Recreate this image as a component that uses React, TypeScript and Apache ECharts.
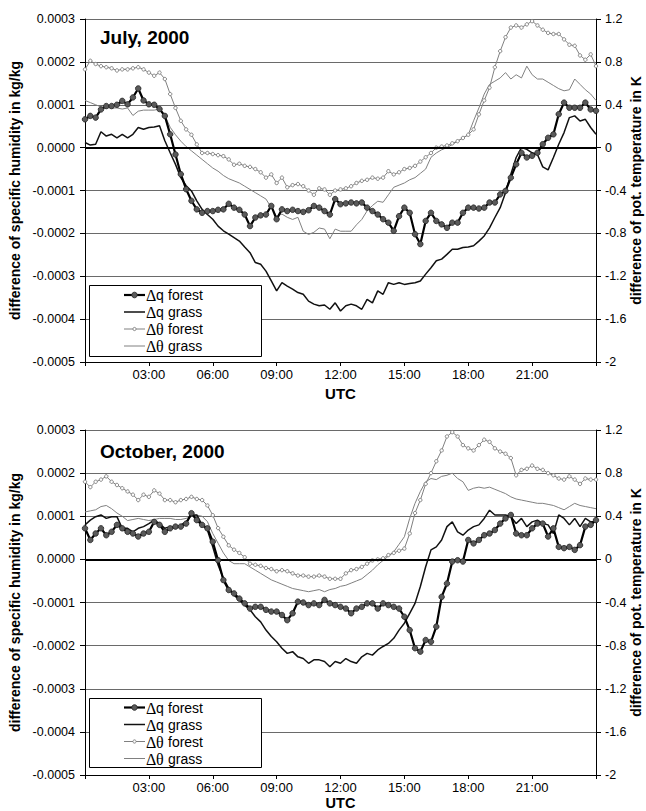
import React, { useEffect, useRef } from "react";
import * as echarts from "echarts";

// time step of the records in hours (15 min)
const STEP_H = 0.25;

const SERIES_NAMES = ["Δq forest", "Δq grass", "Δθ forest", "Δθ grass"];
const PANEL_TITLES = ["July, 2000", "October, 2000"];
const X_TICK_LABELS = ["", "03:00", "06:00", "09:00", "12:00", "15:00", "18:00", "21:00", ""];
const Q_TICK_LABELS = ["-0.0005", "-0.0004", "-0.0003", "-0.0002", "-0.0001", "0.0000", "0.0001", "0.0002", "0.0003"];
const T_TICK_LABELS = ["-2", "-1.6", "-1.2", "-0.8", "-0.4", "0", "0.4", "0.8", "1.2"];

// specific humidity differences in units of 1e-4 kg/kg, potential temperature differences in K
// values every 15 min from 00:00 to 24:00
const julyQForest = [
  0.66, 0.74, 0.70, 0.89, 0.97, 0.97, 1.00, 1.09, 1.01, 1.17, 1.38, 1.10,
  1.01, 1.00, 0.90, 0.74, 0.31, -0.16, -0.62, -0.97, -1.24, -1.44, -1.52, -1.48,
  -1.48, -1.45, -1.44, -1.31, -1.40, -1.45, -1.56, -1.83, -1.63, -1.58, -1.56, -1.36,
  -1.67, -1.44, -1.48, -1.45, -1.48, -1.50, -1.46, -1.36, -1.40, -1.48, -1.56, -1.20,
  -1.32, -1.30, -1.28, -1.30, -1.28, -1.40, -1.48, -1.56, -1.67, -1.75, -1.94, -1.60,
  -1.40, -1.52, -2.02, -2.25, -1.71, -1.52, -1.71, -1.79, -1.87, -1.75, -1.75, -1.52,
  -1.40, -1.40, -1.42, -1.40, -1.28, -1.28, -1.09, -1.01, -0.70, -0.39, -0.12, -0.23,
  -0.19, -0.12, 0.08, 0.23, 0.31, 0.78, 1.05, 0.93, 0.93, 0.93, 1.05, 0.89,
  0.86,
];
const julyQGrass = [
  0.12, 0.06, 0.08, 0.37, 0.27, 0.31, 0.23, 0.31, 0.23, 0.31, 0.47, 0.43,
  0.47, 0.48, 0.51, 0.16, -0.12, -0.39, -0.70, -0.89, -1.01, -1.24, -1.44, -1.56,
  -1.67, -1.83, -1.94, -2.02, -2.10, -2.18, -2.32, -2.45, -2.68, -2.72, -2.88, -3.11,
  -3.34, -3.15, -3.23, -3.30, -3.38, -3.42, -3.58, -3.65, -3.69, -3.67, -3.77, -3.62,
  -3.81, -3.69, -3.65, -3.69, -3.77, -3.54, -3.62, -3.34, -3.42, -3.15, -3.19, -3.15,
  -3.19, -3.17, -3.15, -3.11, -2.95, -2.80, -2.64, -2.60, -2.49, -2.37, -2.37, -2.33,
  -2.32, -2.29, -2.18, -2.06, -1.87, -1.63, -1.40, -1.05, -0.62, -0.23, 0.00, -0.04,
  -0.12, -0.16, -0.45, -0.52, -0.23, 0.08, 0.35, 0.70, 0.74, 0.62, 0.66, 0.47,
  0.31,
];
const julyTForest = [
  0.73, 0.81, 0.78, 0.76, 0.75, 0.74, 0.72, 0.73, 0.73, 0.74, 0.75, 0.73,
  0.70, 0.67, 0.70, 0.64, 0.50, 0.37, 0.25, 0.17, 0.12, 0.03, -0.05, -0.05,
  -0.06, -0.07, -0.08, -0.11, -0.16, -0.15, -0.17, -0.18, -0.20, -0.23, -0.28, -0.25,
  -0.33, -0.28, -0.37, -0.35, -0.34, -0.36, -0.40, -0.44, -0.38, -0.39, -0.44, -0.40,
  -0.39, -0.38, -0.36, -0.33, -0.31, -0.30, -0.28, -0.29, -0.28, -0.22, -0.25, -0.23,
  -0.20, -0.19, -0.17, -0.13, -0.09, -0.05, 0.00, 0.01, 0.02, 0.04, 0.06, 0.09,
  0.12, 0.17, 0.31, 0.44, 0.56, 0.75, 0.90, 1.03, 1.12, 1.14, 1.12, 1.15,
  1.18, 1.14, 1.10, 1.07, 1.06, 1.06, 1.01, 0.96, 0.95, 0.86, 0.82, 0.87,
  0.76,
];
const julyTGrass = [
  0.44, 0.42, 0.40, 0.38, 0.37, 0.37, 0.37, 0.36, 0.37, 0.30, 0.34, 0.35,
  0.35, 0.35, 0.36, 0.30, 0.19, 0.12, 0.06, 0.01, -0.03, -0.07, -0.11, -0.15,
  -0.19, -0.22, -0.26, -0.29, -0.31, -0.33, -0.36, -0.39, -0.42, -0.45, -0.48, -0.56,
  -0.64, -0.62, -0.65, -0.67, -0.65, -0.78, -0.81, -0.79, -0.75, -0.76, -0.85, -0.76,
  -0.78, -0.78, -0.78, -0.72, -0.67, -0.59, -0.54, -0.50, -0.51, -0.44, -0.37, -0.35,
  -0.33, -0.30, -0.28, -0.24, -0.20, -0.09, -0.05, -0.02, 0.00, 0.03, 0.06, 0.09,
  0.12, 0.25, 0.37, 0.50, 0.59, 0.62, 0.65, 0.70, 0.64, 0.68, 0.65, 0.76,
  0.68, 0.64, 0.64, 0.61, 0.58, 0.55, 0.53, 0.54, 0.64, 0.59, 0.54, 0.50,
  0.44,
];

const octQForest = [
  0.72, 0.45, 0.60, 0.72, 0.56, 0.64, 0.80, 0.72, 0.64, 0.60, 0.53, 0.60,
  0.64, 0.87, 0.80, 0.64, 0.72, 0.76, 0.76, 0.83, 1.07, 0.91, 0.80, 0.72,
  0.41, -0.02, -0.48, -0.71, -0.79, -0.91, -1.02, -1.14, -1.10, -1.10, -1.17, -1.21,
  -1.21, -1.29, -1.41, -1.25, -0.98, -1.00, -1.06, -1.02, -1.06, -0.94, -1.02, -1.06,
  -1.10, -1.14, -1.25, -1.14, -1.10, -1.02, -1.02, -1.14, -1.02, -1.06, -1.10, -1.14,
  -1.33, -1.64, -2.06, -2.14, -1.87, -1.91, -1.56, -0.87, -0.56, -0.05, -0.02, -0.05,
  0.45, 0.37, 0.45, 0.56, 0.60, 0.68, 0.83, 0.95, 1.03, 0.60, 0.56, 0.56,
  0.72, 0.83, 0.83, 0.53, 0.72, 0.29, 0.26, 0.29, 0.22, 0.33, 0.76, 0.80,
  0.91,
];
const octQGrass = [
  0.80, 0.91, 0.99, 1.03, 0.95, 0.99, 0.99, 0.72, 0.72, 0.64, 0.72, 0.76,
  0.83, 0.91, 0.83, 0.72, 0.76, 0.72, 0.80, 0.87, 1.03, 1.03, 0.80, 0.68,
  0.29, -0.13, -0.44, -0.67, -0.83, -0.94, -1.06, -1.17, -1.33, -1.45, -1.64, -1.79,
  -1.91, -2.06, -2.18, -2.14, -2.26, -2.30, -2.41, -2.33, -2.33, -2.37, -2.49, -2.37,
  -2.41, -2.30, -2.37, -2.41, -2.26, -2.18, -2.22, -2.10, -2.02, -1.95, -1.83, -1.64,
  -1.48, -1.25, -1.02, -0.63, -0.17, 0.22, 0.29, 0.45, 0.76, 0.87, 0.64, 0.56,
  0.68, 0.76, 0.80, 0.95, 1.14, 1.03, 1.03, 1.03, 0.99, 0.83, 0.95, 0.76,
  0.87, 0.91, 0.83, 0.80, 0.60, 1.03, 0.95, 0.80, 0.95, 0.76, 0.95, 0.87,
  0.87,
];
const octTForest = [
  0.72, 0.67, 0.72, 0.74, 0.77, 0.72, 0.69, 0.66, 0.63, 0.60, 0.55, 0.60,
  0.58, 0.64, 0.61, 0.55, 0.55, 0.53, 0.55, 0.56, 0.58, 0.56, 0.55, 0.50,
  0.41, 0.29, 0.21, 0.13, 0.09, 0.06, 0.02, -0.04, -0.05, -0.06, -0.08, -0.09,
  -0.11, -0.10, -0.11, -0.13, -0.15, -0.15, -0.16, -0.16, -0.15, -0.16, -0.18, -0.18,
  -0.18, -0.13, -0.10, -0.09, -0.07, -0.04, -0.01, 0.00, 0.01, 0.04, 0.06, 0.08,
  0.10, 0.24, 0.43, 0.55, 0.70, 0.80, 0.91, 1.01, 1.14, 1.18, 1.14, 1.06,
  1.03, 1.01, 1.06, 1.11, 1.09, 1.03, 1.00, 0.98, 0.94, 0.78, 0.83, 0.84,
  0.87, 0.84, 0.83, 0.80, 0.78, 0.75, 0.74, 0.77, 0.74, 0.70, 0.75, 0.74,
  0.74,
];
const octTGrass = [
  0.44, 0.45, 0.46, 0.49, 0.50, 0.47, 0.43, 0.40, 0.36, 0.37, 0.38, 0.37,
  0.36, 0.37, 0.38, 0.38, 0.38, 0.37, 0.37, 0.38, 0.40, 0.41, 0.40, 0.35,
  0.24, 0.15, 0.06, -0.01, -0.04, -0.04, -0.04, -0.07, -0.10, -0.13, -0.16, -0.19,
  -0.21, -0.23, -0.25, -0.27, -0.28, -0.29, -0.30, -0.29, -0.28, -0.30, -0.28, -0.27,
  -0.25, -0.24, -0.22, -0.20, -0.18, -0.14, -0.10, -0.05, -0.01, 0.03, 0.07, 0.14,
  0.21, 0.38, 0.52, 0.63, 0.72, 0.75, 0.74, 0.77, 0.78, 0.80, 0.75, 0.72,
  0.64, 0.66, 0.67, 0.66, 0.67, 0.65, 0.63, 0.61, 0.58, 0.56, 0.55, 0.54,
  0.53, 0.52, 0.52, 0.51, 0.50, 0.48, 0.46, 0.49, 0.52, 0.50, 0.49, 0.48,
  0.47,
];

const PANELS = [
  { qForest: julyQForest, qGrass: julyQGrass, tForest: julyTForest, tGrass: julyTGrass },
  { qForest: octQForest, qGrass: octQGrass, tForest: octTForest, tGrass: octTGrass },
];

const FONT = "'Liberation Sans', Arial, sans-serif";
const GREEK_FONT = "'Liberation Serif', 'DejaVu Serif', serif";

const GRIDS = [
  { left: 85, top: 19, width: 511, height: 343, outerBoundsMode: "none", containLabel: false },
  { left: 85, top: 430, width: 511, height: 345, outerBoundsMode: "none", containLabel: false },
];
const UTC_GAPS = [24, 20];
const LEGEND_BOXES = [
  { x: 89, y: 285, w: 172, h: 71 },
  { x: 89, y: 698, w: 172, h: 69 },
];
const TITLE_TOPS = [28, 442];

// visual style for each series, in SERIES_NAMES order
const STYLES = [
  { line: "#000", width: 2.2, marker: { r: 2.8, fill: "#5a5a5a", stroke: "#222", lw: 0.8 } },
  { line: "#111", width: 1.5, marker: null },
  { line: "#808080", width: 1, marker: { r: 1.6, fill: "#fff", stroke: "#777", lw: 0.9 } },
  { line: "#808080", width: 1, marker: null },
];

const toPairs = (arr: number[]) => arr.map((v, i) => [i * STEP_H, v]);
const isGreek = (c: string) => /[\u0370-\u03ff]/.test(c);

function legendGraphics(k: number) {
  const b = LEGEND_BOXES[k];
  const els: any[] = [
    {
      type: "rect",
      z: 100,
      shape: { x: b.x + 0.5, y: b.y + 0.5, width: b.w, height: b.h },
      style: { fill: "#fff", stroke: "#000", lineWidth: 1 },
    },
  ];
  SERIES_NAMES.forEach((name, i) => {
    const cy = b.y + 10 + i * 17 - (k === 1 ? 0.5 : 0);
    const s = STYLES[i];
    els.push({
      type: "line",
      z: 101,
      shape: { x1: 124, y1: cy, x2: 145, y2: cy },
      style: { stroke: s.line, lineWidth: s.width },
    });
    if (s.marker) {
      els.push({
        type: "circle",
        z: 102,
        shape: { cx: 134.5, cy, r: s.marker.r },
        style: { fill: s.marker.fill, stroke: s.marker.stroke, lineWidth: s.marker.lw },
      });
    }
    const [sym, word] = name.split(" ");
    const parts = [
      { t: sym[0], x: 146 },
      { t: sym[1], x: 156 },
      { t: word, x: 168 },
    ];
    parts.forEach((pt) => {
      const greek = isGreek(pt.t);
      els.push({
        type: "text",
        z: 102,
        x: pt.x,
        y: cy + (greek ? 0.5 : 0),
        style: {
          text: pt.t,
          fontFamily: greek ? GREEK_FONT : FONT,
          fontSize: greek ? 16 : 14,
          fill: "#000",
          verticalAlign: "middle",
          align: "left",
        },
      });
    });
  });
  return els;
}

function buildOption() {
  const xAxis: any[] = [];
  const yAxis: any[] = [];
  const series: any[] = [];
  const title: any[] = [];
  const graphic: any[] = [];

  PANELS.forEach((p, k) => {
    xAxis.push({
      type: "value",
      gridIndex: k,
      min: 0,
      max: 24,
      interval: 3,
      name: "UTC",
      nameLocation: "middle",
      nameGap: UTC_GAPS[k],
      nameTextStyle: { fontFamily: FONT, fontSize: k === 0 ? 15 : 14.5, fontWeight: "bold", color: "#000" },
      axisLine: { show: true, onZero: false, lineStyle: { color: "#000", width: 1 } },
      axisTick: { show: true, length: 4, lineStyle: { color: "#000" } },
      axisLabel: {
        margin: 6,
        fontFamily: FONT,
        fontSize: 13,
        color: "#000",
        formatter: (v: number) => X_TICK_LABELS[Math.round(v / 3)] ?? "",
      },
      splitLine: { show: false },
    });
    yAxis.push({
      type: "value",
      gridIndex: k,
      position: "left",
      min: -5,
      max: 3,
      interval: 1,
      name: "difference of specific humidity in kg/kg",
      nameLocation: "middle",
      nameRotate: 90,
      nameGap: 53,
      nameTextStyle: { fontFamily: FONT, fontSize: 14, fontWeight: "bold", color: "#000" },
      axisLine: { show: true, onZero: false, lineStyle: { color: "#000", width: 1 } },
      axisTick: { show: true, length: 5, lineStyle: { color: "#000" } },
      axisLabel: {
        margin: 10,
        fontFamily: FONT,
        fontSize: 12.5,
        color: "#000",
        formatter: (v: number) => Q_TICK_LABELS[Math.round(v) + 5] ?? "",
      },
      splitLine: { show: true, lineStyle: { color: "#6a6a6a", width: 1 } },
    });
    yAxis.push({
      type: "value",
      gridIndex: k,
      position: "right",
      min: -2,
      max: 1.2,
      interval: 0.4,
      name: "difference of pot. temperature in K",
      nameLocation: "middle",
      nameRotate: 90,
      nameGap: 33,
      nameMoveOverlap: false,
      nameTextStyle: { fontFamily: FONT, fontSize: 14, fontWeight: "bold", color: "#000" },
      axisLine: { show: true, onZero: false, lineStyle: { color: "#000", width: 1 } },
      axisTick: { show: true, length: 5, lineStyle: { color: "#000" } },
      axisLabel: {
        margin: 9,
        fontFamily: FONT,
        fontSize: 12.5,
        color: "#000",
        formatter: (v: number) => T_TICK_LABELS[Math.round((v + 2) / 0.4)] ?? "",
      },
      splitLine: { show: false },
    });

    const yq = k * 2;
    const yt = k * 2 + 1;
    series.push(
      {
        name: SERIES_NAMES[3],
        type: "line",
        xAxisIndex: k,
        yAxisIndex: yt,
        data: toPairs(p.tGrass),
        showSymbol: false,
        lineStyle: { color: STYLES[3].line, width: STYLES[3].width },
        itemStyle: { color: STYLES[3].line },
        z: 2,
      },
      {
        name: SERIES_NAMES[2],
        type: "line",
        xAxisIndex: k,
        yAxisIndex: yt,
        data: toPairs(p.tForest),
        symbol: "circle",
        symbolSize: 3.4,
        showAllSymbol: true,
        lineStyle: { color: STYLES[2].line, width: STYLES[2].width },
        itemStyle: { color: "#fff", borderColor: "#777", borderWidth: 0.9 },
        z: 3,
      },
      {
        name: SERIES_NAMES[1],
        type: "line",
        xAxisIndex: k,
        yAxisIndex: yq,
        data: toPairs(p.qGrass),
        showSymbol: false,
        lineStyle: { color: STYLES[1].line, width: STYLES[1].width },
        itemStyle: { color: STYLES[1].line },
        z: 4,
        markLine: {
          silent: true,
          symbol: ["none", "none"],
          label: { show: false },
          lineStyle: { color: "#000", width: 2.2, type: "solid" },
          data: [{ yAxis: 0 }],
        },
      },
      {
        name: SERIES_NAMES[0],
        type: "line",
        xAxisIndex: k,
        yAxisIndex: yq,
        data: toPairs(p.qForest),
        symbol: "circle",
        symbolSize: 5.5,
        showAllSymbol: true,
        lineStyle: { color: STYLES[0].line, width: STYLES[0].width },
        itemStyle: { color: "#5a5a5a", borderColor: "#222", borderWidth: 0.8 },
        z: 5,
      }
    );

    graphic.push(...legendGraphics(k));

    title.push({
      text: PANEL_TITLES[k],
      left: 100,
      top: TITLE_TOPS[k],
      padding: 0,
      textStyle: { fontFamily: FONT, fontSize: 19, fontWeight: "bold", color: "#000" },
    });
  });

  return {
    animation: false,
    backgroundColor: "#fff",
    textStyle: { fontFamily: FONT },
    title,
    grid: GRIDS,
    xAxis,
    yAxis,
    series,
    graphic,
  };
}

export default function App() {
  const ref = useRef<HTMLDivElement>(null);
  useEffect(() => {
    document.body.style.margin = "0";
    document.body.style.overflow = "hidden";
    if (!ref.current) return;
    const chart = echarts.init(ref.current, undefined, { renderer: "svg" });
    chart.setOption(buildOption() as any);
    return () => chart.dispose();
  }, []);
  return <div ref={ref} style={{ width: 646, height: 811 }} />;
}
